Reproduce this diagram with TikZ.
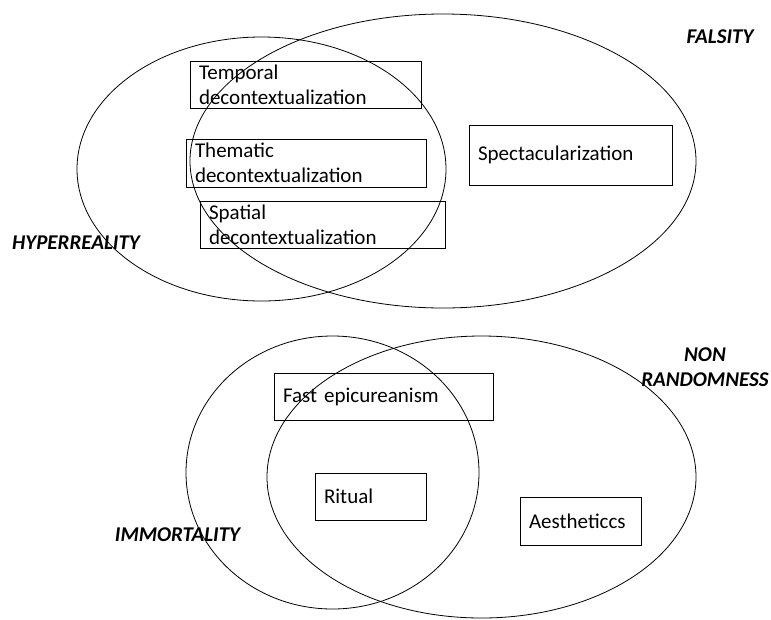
\documentclass[tikz,border=0pt]{standalone}
\usepackage{fontspec}
\setmainfont{Carlito}
\usetikzlibrary{shapes.geometric}

\tikzset{
  venn/.style={draw,ellipse,inner sep=0pt,line width=0.8pt},
  box/.style={draw,rectangle,line width=0.8pt,inner xsep=9pt,inner ysep=0pt,align=left},
  tag/.style={font=\fontsize{21}{25}\selectfont\bfseries\itshape,align=center}
}

\begin{document}
\begin{tikzpicture}[x=1pt,y=-1pt,font=\fontsize{21}{25}\selectfont]
      \useasboundingbox (0,0) rectangle (771,619);
      % upper pair
      \node[venn,minimum width=369,minimum height=264] (hyper) at (261.5,169) {};
      \node[venn,minimum width=506,minimum height=294] (falsity) at (443,161) {};
      \node[box,minimum width=231,minimum height=47,text width=213] (temporal) at (305.5,84.5) {Temporal\\decontextualization};
      \node[box,minimum width=240,minimum height=48,text width=222] (thematic) at (306,163) {Thematic\\decontextualization};
      \node[box,minimum width=245,minimum height=47,text width=227] (spatial) at (322.5,224.5) {Spatial\\decontextualization};
      \node[box,minimum width=203,minimum height=60,text width=185] (spect) at (570.5,155) {Spectacularization};
      \node[tag] (falsitytag) at (720,37) {FALSITY};
      \node[tag] (hypertag) at (76,243) {HYPERREALITY};
      % lower pair
      \node[venn,minimum width=293,minimum height=273] (immort) at (332.5,472.5) {};
      \node[venn,minimum width=429,minimum height=282] (nonrand) at (481.5,477) {};
      \node[box,minimum width=219,minimum height=47,text width=201] (fast) at (383.5,396.5) {Fast epicureanism};
      \node[box,minimum width=111,minimum height=47,text width=93] (ritual) at (370.5,496.5) {Ritual};
      \node[box,minimum width=121,minimum height=48,text width=103] (aesth) at (580.5,521) {Aestheticcs};
      \node[tag] (nonrandtag) at (705,367.5) {NON\\RANDOMNESS};
      \node[tag] (immorttag) at (177.5,535) {IMMORTALITY};
\end{tikzpicture}
\end{document}
